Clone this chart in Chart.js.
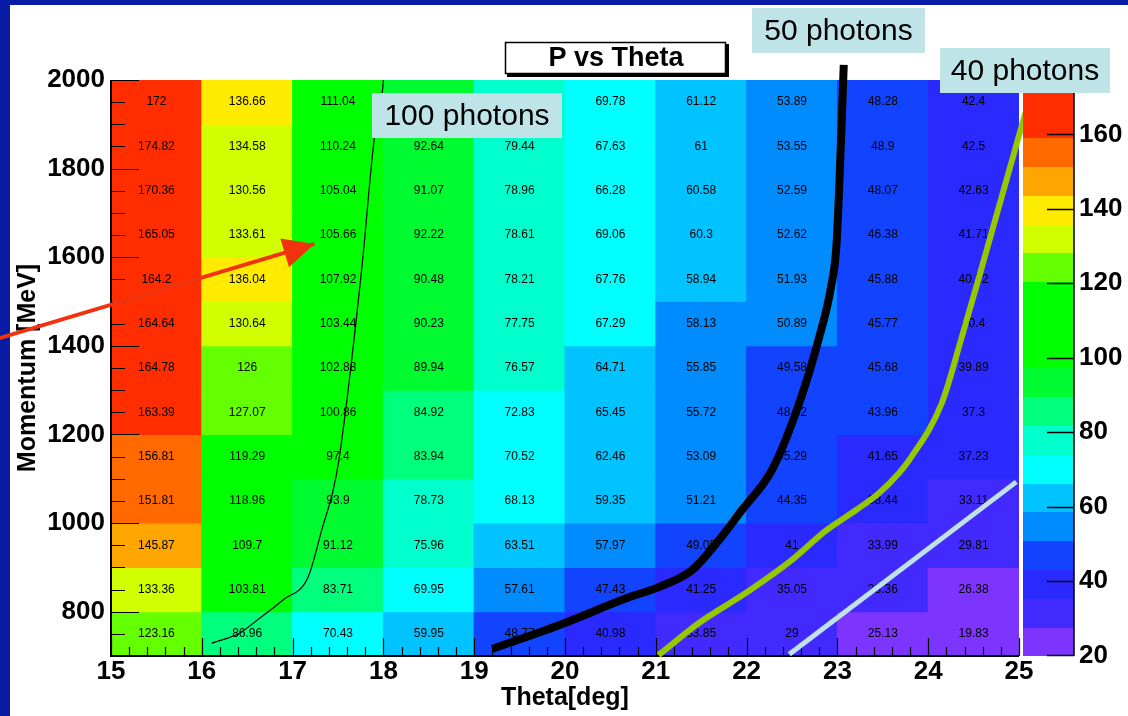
<!DOCTYPE html>
<html><head><meta charset="utf-8">
<script src="https://cdn.jsdelivr.net/npm/chart.js@4.4.1/dist/chart.umd.min.js"></script>
<style>html,body{margin:0;padding:0;background:#fff;overflow:hidden}canvas{display:block}</style>
</head><body>
<canvas id="c" width="1128" height="716"></canvas>
<script>
// ---------- data ----------
const thetaLow = [15, 16, 17, 18, 19, 20, 21, 22, 23, 24];          // lower edge of theta bins [deg]
const momentumLow = [1900, 1800, 1700, 1600, 1500, 1400, 1300, 1200, 1100, 1000, 900, 800, 700]; // lower edge of P bins [MeV]
const theta15 = [172, 174.82, 170.36, 165.05, 164.2, 164.64, 164.78, 163.39, 156.81, 151.81, 145.87, 133.36, 123.16];
const theta16 = [136.66, 134.58, 130.56, 133.61, 136.04, 130.64, 126, 127.07, 119.29, 118.96, 109.7, 103.81, 86.96];
const theta17 = [111.04, 110.24, 105.04, 105.66, 107.92, 103.44, 102.88, 100.86, 97.4, 93.9, 91.12, 83.71, 70.43];
const theta18 = [93.3, 92.64, 91.07, 92.22, 90.48, 90.23, 89.94, 84.92, 83.94, 78.73, 75.96, 69.95, 59.95];
const theta19 = [80.2, 79.44, 78.96, 78.61, 78.21, 77.75, 76.57, 72.83, 70.52, 68.13, 63.51, 57.61, 48.77];
const theta20 = [69.78, 67.63, 66.28, 69.06, 67.76, 67.29, 64.71, 65.45, 62.46, 59.35, 57.97, 47.43, 40.98];
const theta21 = [61.12, 61, 60.58, 60.3, 58.94, 58.13, 55.85, 55.72, 53.09, 51.21, 49.05, 41.25, 33.85];
const theta22 = [53.89, 53.55, 52.59, 52.62, 51.93, 50.89, 49.58, 48.62, 45.29, 44.35, 41, 35.05, 29];
const theta23 = [48.28, 48.9, 48.07, 46.38, 45.88, 45.77, 45.68, 43.96, 41.65, 38.44, 33.99, 28.36, 25.13];
const theta24 = [42.4, 42.5, 42.63, 41.71, 40.72, 40.4, 39.89, 37.3, 37.23, 33.11, 29.81, 26.38, 19.83];

const thetaTicks = [15, 16, 17, 18, 19, 20, 21, 22, 23, 24, 25];
const momentumTicks = [800, 1000, 1200, 1400, 1600, 1800, 2000];
const colourTicks = [20, 40, 60, 80, 100, 120, 140, 160];
const colourMin = 19.83;
const colourMax = 174.6;

// overlay curves (theta [deg], momentum [MeV])
const photons100 = [{x:16.11,y:729},{x:16.42,y:752},{x:16.61,y:781},{x:16.89,y:826},{x:17.17,y:878},{x:17.33,y:991},{x:17.44,y:1068},{x:17.51,y:1142},{x:17.76,y:1571},{x:17.90,y:1869},{x:17.99,y:1977},{x:18.0,y:2000}];
const photons50 = [{x:19.2,y:716},{x:19.94,y:770},{x:20.71,y:833},{x:21.04,y:856},{x:21.40,y:894},{x:21.67,y:955},{x:21.95,y:1030},{x:22.28,y:1120},{x:22.58,y:1271},{x:22.80,y:1420},{x:22.93,y:1533},{x:22.99,y:1628},{x:23.04,y:1865},{x:23.07,y:2034}];
const photons40 = [{x:21.03,y:702},{x:21.48,y:775},{x:21.99,y:842},{x:22.50,y:917},{x:22.88,y:984},{x:23.21,y:1030},{x:23.46,y:1068},{x:23.68,y:1113},{x:23.79,y:1142},{x:24.15,y:1271},{x:24.37,y:1420},{x:24.56,y:1555},{x:25.07,y:1926}];
const cutLine = [{x:22.47,y:704},{x:24.97,y:1093}];
const arrowLine = [{x:13.70,y:1413},{x:17.24,y:1630}];

// ---------- styles ----------
const palette = ['rgb(125,52,255)','rgb(66,42,255)','rgb(42,42,255)','rgb(18,68,255)','rgb(0,140,255)','rgb(0,195,255)','rgb(0,255,255)','rgb(0,255,205)','rgb(0,255,125)','rgb(0,252,48)','rgb(0,255,0)','rgb(0,255,0)','rgb(0,255,0)','rgb(100,255,0)','rgb(210,255,0)','rgb(255,235,0)','rgb(255,165,0)','rgb(255,105,0)','rgb(255,45,0)','rgb(255,45,0)'];
const nLevels = palette.length;
function colourFor(v){
  let k = Math.floor((v - colourMin) / ((colourMax - colourMin) / nLevels));
  k = Math.max(0, Math.min(nLevels - 1, k));
  return palette[k];
}
const FONT = '"Liberation Sans", Arial, Helvetica, sans-serif';
Chart.defaults.font.family = FONT;
Chart.defaults.color = '#000';

const columns = [theta15, theta16, theta17, theta18, theta19, theta20, theta21, theta22, theta23, theta24];
const barSets = momentumLow.map((p, r) => ({
  type: 'bar', order: 2, grouped: false,
  data: thetaLow.map((t, c) => ({x: t + 0.5, y: [p, p + 100], v: columns[c][r]})),
  backgroundColor: thetaLow.map((t, c) => colourFor(columns[c][r])),
  borderWidth: 0, barPercentage: 1, categoryPercentage: 1, inflateAmount: 0.5
}));
const lineBase = {type: 'line', order: 1, pointRadius: 0, fill: false, clip: false, borderCapStyle: 'butt'};
const lineSets = [
  Object.assign({}, lineBase, {data: photons100, borderColor: '#000', borderWidth: 1.2, cubicInterpolationMode: 'monotone'}),
  Object.assign({}, lineBase, {data: photons50, borderColor: '#000', borderWidth: 8, cubicInterpolationMode: 'monotone'}),
  Object.assign({}, lineBase, {data: photons40, borderColor: 'rgb(150,200,0)', borderWidth: 6, cubicInterpolationMode: 'monotone'}),
  Object.assign({}, lineBase, {data: cutLine, borderColor: 'rgb(190,226,232)', borderWidth: 5}),
  Object.assign({}, lineBase, {data: arrowLine, borderColor: 'rgb(240,50,15)', borderWidth: 4, arrow: true})
];

const frame = {
  id: 'frame',
  beforeDraw(chart){
    const c = chart.ctx;
    c.save();
    c.fillStyle = '#0a1ca6'; c.fillRect(0, 0, chart.width, chart.height);
    c.fillStyle = '#fff'; c.fillRect(10, 5, chart.width - 10, chart.height - 5);
    c.restore();
  },
  afterDatasetDraw(chart, args){
    const meta = args.meta;
    const c = chart.ctx;
    if (meta.type === 'bar') {
      c.save();
      c.fillStyle = '#000';
      c.font = '12px ' + FONT;
      c.textAlign = 'center'; c.textBaseline = 'middle';
      const ds = chart.data.datasets[args.index];
      meta.data.forEach((el, i) => {
        c.fillText(String(ds.data[i].v), el.x, (el.y + el.base) / 2);
      });
      c.restore();
      if (args.index === 0) drawAxesTicks(chart);
    }
  },
  afterDatasetsDraw(chart){
    chart.data.datasets.forEach((ds, i) => {
      if (!ds.arrow) return;
      const pts = chart.getDatasetMeta(i).data;
      const a = pts[pts.length - 2], b = pts[pts.length - 1];
      const dx = b.x - a.x, dy = b.y - a.y, L = Math.hypot(dx, dy);
      const ux = dx / L, uy = dy / L;
      const c = chart.ctx;
      c.save();
      c.fillStyle = ds.borderColor;
      c.beginPath();
      c.moveTo(b.x, b.y);
      c.lineTo(b.x - 31 * ux - 15 * uy, b.y - 31 * uy + 15 * ux);
      c.lineTo(b.x - 31 * ux + 15 * uy, b.y - 31 * uy - 15 * ux);
      c.closePath(); c.fill();
      c.restore();
    });
  },
  afterDraw(chart){
    const c = chart.ctx;
    const z = chart.scales.z, area = chart.chartArea;
    const x0 = area.right + 4, x1 = area.right + 55;
    c.save();
    const step = (colourMax - colourMin) / nLevels;
    for (let k = 0; k < nLevels; k++) {
      const yb = z.getPixelForValue(colourMin + k * step);
      const yt = z.getPixelForValue(colourMin + (k + 1) * step);
      c.fillStyle = palette[k];
      c.fillRect(x0, Math.floor(yt), x1 - x0, Math.ceil(yb) - Math.floor(yt));
    }
    c.strokeStyle = '#000'; c.lineWidth = 1.5;
    c.beginPath(); c.moveTo(x1, area.top); c.lineTo(x1, area.bottom); c.stroke();
    colourTicks.forEach(v => {
      const y = Math.round(z.getPixelForValue(v)) + 0.5;
      c.beginPath(); c.moveTo(x1 - 27, y); c.lineTo(x1, y); c.stroke();
    });
    // title pave
    c.fillStyle = '#000'; c.fillRect(507, 44, 222, 33);
    c.fillStyle = '#fff'; c.fillRect(505, 42, 221, 32);
    c.strokeStyle = '#000'; c.lineWidth = 1.5; c.strokeRect(505.5, 42.5, 220, 31);
    c.fillStyle = '#000'; c.font = 'bold 27px ' + FONT;
    c.textAlign = 'center'; c.textBaseline = 'middle';
    c.fillText('P vs Theta', 616, 59);
    const labels = [
      {t: '100 photons', x: 372, y: 93, w: 190, h: 45},
      {t: '50 photons', x: 752, y: 8, w: 173, h: 45},
      {t: '40 photons', x: 940, y: 48, w: 170, h: 45}
    ];
    labels.forEach(l => {
      c.fillStyle = 'rgb(190,228,232)'; c.fillRect(l.x, l.y, l.w, l.h);
      c.fillStyle = '#000'; c.font = '30px ' + FONT;
      c.fillText(l.t, l.x + l.w / 2, l.y + l.h / 2 + 1);
    });
    c.restore();
  }
};

function drawAxesTicks(chart){
  const c = chart.ctx, xs = chart.scales.x, ys = chart.scales.y, area = chart.chartArea;
  c.save();
  c.strokeStyle = '#000'; c.lineWidth = 1.2;
  c.beginPath();
  for (let i = 0; i <= 50; i++) {
    const v = 15 + i * 0.2;
    const x = Math.round(xs.getPixelForValue(v)) + 0.5;
    const len = (i % 5 === 0) ? 18 : 9;
    c.moveTo(x, area.bottom); c.lineTo(x, area.bottom - len);
  }
  for (let v = 700; v <= 2000; v += 50) {
    const y = Math.round(ys.getPixelForValue(v)) + 0.5;
    const len = (v % 200 === 0) ? 28 : 14;
    c.moveTo(area.left, y); c.lineTo(area.left + len, y);
  }
  c.stroke();
  c.lineWidth = 2;
  c.beginPath();
  c.moveTo(area.left, area.top); c.lineTo(area.left, area.bottom); c.lineTo(area.right, area.bottom);
  c.stroke();
  c.restore();
}

const noPad = s => { s.paddingTop = 0; s.paddingBottom = 0; s.paddingLeft = 0; s.paddingRight = 0; };
const plain = v => String(v);

new Chart(document.getElementById('c').getContext('2d'), {
  type: 'bar',
  data: {datasets: [...barSets, ...lineSets]},
  options: {
    responsive: false, animation: false, events: [], devicePixelRatio: 1,
    layout: {padding: {top: 80, left: 0, right: 0, bottom: 0}},
    plugins: {legend: {display: false}, tooltip: {enabled: false}, title: {display: false}},
    scales: {
      x: {
        type: 'linear', min: 15, max: 25, offset: false,
        grid: {display: false, drawTicks: false}, border: {display: false},
        afterBuildTicks: s => { s.ticks = thetaTicks.map(v => ({value: v})); },
        ticks: {autoSkip: false, maxRotation: 0, padding: 0, color: '#000', font: {size: 26, weight: 'bold'}, callback: plain},
        title: {display: true, text: 'Theta[deg]', color: '#000', font: {size: 25, weight: 'bold'}, padding: {top: 0, bottom: 3}},
        afterFit: s => { s.height = 60; noPad(s); }
      },
      y: {
        type: 'linear', position: 'left', min: 700, max: 2000,
        grid: {display: false, drawTicks: false}, border: {display: false},
        afterBuildTicks: s => { s.ticks = momentumTicks.map(v => ({value: v})); },
        ticks: {autoSkip: false, padding: 6, color: '#000', font: {size: 26, weight: 'bold'}, callback: plain},
        title: {display: true, text: 'Momentum [MeV]', color: '#000', font: {size: 25, weight: 'bold'}, padding: {top: 13, bottom: 0}},
        afterFit: s => { s.width = 111; noPad(s); }
      },
      z: {
        type: 'linear', position: 'right', min: colourMin, max: colourMax,
        grid: {display: false, drawTicks: false}, border: {display: false},
        afterBuildTicks: s => { s.ticks = colourTicks.map(v => ({value: v})); },
        ticks: {autoSkip: false, padding: 60, color: '#000', font: {size: 26, weight: 'bold'}, callback: plain},
        afterFit: s => { s.width = 109; noPad(s); }
      }
    }
  },
  plugins: [frame]
});
</script>
</body></html>
